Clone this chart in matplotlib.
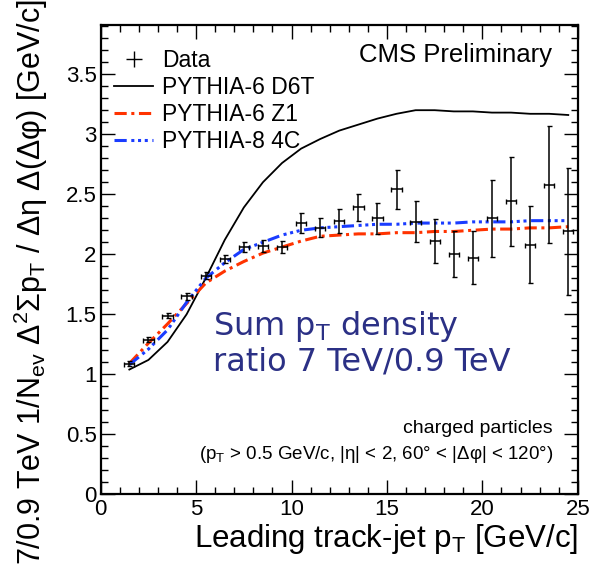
import numpy as np
import matplotlib
matplotlib.use("Agg")
import matplotlib.pyplot as plt
from matplotlib.ticker import MultipleLocator
from matplotlib.lines import Line2D

plt.rcParams['font.family'] = ['Liberation Sans', 'DejaVu Sans']
plt.rcParams['mathtext.default'] = 'regular'

# bin centres of leading track-jet pT [GeV/c]
pt = [1.5, 2.5, 3.5, 4.5, 5.5, 6.5, 7.5, 8.5, 9.5, 10.5, 11.5, 12.5,
      13.5, 14.5, 15.5, 16.5, 17.5, 18.5, 19.5, 20.5, 21.5, 22.5, 23.5, 24.5]

data = [1.09, 1.29, 1.49, 1.65, 1.82, 1.96, 2.06, 2.07, 2.06, 2.26, 2.22, 2.28,
        2.39, 2.30, 2.54, 2.27, 2.11, 2.00, 1.97, 2.30, 2.44, 2.08, 2.58, 2.19]
data_err = [0.02, 0.02, 0.02, 0.03, 0.03, 0.03, 0.04, 0.05, 0.05, 0.08, 0.08, 0.10,
            0.11, 0.13, 0.16, 0.17, 0.18, 0.19, 0.22, 0.32, 0.37, 0.32, 0.49, 0.53]

d6t = [1.04, 1.12, 1.27, 1.50, 1.80, 2.12, 2.39, 2.60, 2.76, 2.88, 2.96, 3.03,
       3.08, 3.13, 3.17, 3.20, 3.20, 3.19, 3.19, 3.18, 3.18, 3.17, 3.17, 3.16]
z1 = [1.09, 1.26, 1.42, 1.59, 1.76, 1.86, 1.94, 2.01, 2.06, 2.11, 2.15, 2.16,
      2.17, 2.17, 2.18, 2.18, 2.19, 2.19, 2.20, 2.21, 2.21, 2.22, 2.22, 2.23]
c4 = [1.08, 1.21, 1.37, 1.60, 1.80, 1.93, 2.04, 2.10, 2.16, 2.20, 2.22, 2.23,
      2.24, 2.25, 2.25, 2.26, 2.26, 2.26, 2.27, 2.27, 2.27, 2.28, 2.28, 2.28]

fig = plt.figure(figsize=(5.89, 5.67), dpi=100)
ax = fig.add_axes([0.171, 0.128, 0.81, 0.828])

l1, = ax.plot(pt, d6t, color='black', lw=1.3)
l2, = ax.plot(pt, z1, color='#ff3300', lw=2.2, dashes=(4, 1.5, 1, 1.5))
l3, = ax.plot(pt, c4, color='#1a3cff', lw=2.2, dashes=(4, 1.5, 1, 1.2, 1, 1.2, 1, 1.5))
ax.errorbar(pt, data, yerr=data_err, xerr=0.27, fmt='none', ecolor='black',
            elinewidth=1.1, capsize=1.8, capthick=1.0)

ax.set_xlim(0, 25)
ax.set_ylim(0, 3.91)
ax.xaxis.set_minor_locator(MultipleLocator(1))
ax.yaxis.set_minor_locator(MultipleLocator(0.1))
ax.set_xticks([0, 5, 10, 15, 20, 25])
ax.set_xticklabels(['0', '5', '10', '15', '20', '25'])
ax.set_yticks([0, 0.5, 1, 1.5, 2, 2.5, 3, 3.5])
ax.set_yticklabels(['0', '0.5', '1', '1.5', '2', '2.5', '3', '3.5'])
ax.tick_params(which='both', direction='in', top=True, right=True, labelsize=16, width=1.0)
ax.tick_params(which='major', length=10, pad=3)
ax.tick_params(which='minor', length=5)
ax.tick_params(axis='x', pad=3)
for s in ax.spines.values():
    s.set_linewidth(1.6)

ax.set_xlabel('Leading track-jet p$_{T}$ [GeV/c]', fontsize=22.5, loc='right', labelpad=2)
fig.text(0.052, 0.003, '7/0.9 TeV 1/N$_{ev}$ Δ$^{2}$Σp$_{T}$ / Δη Δ(Δφ) [GeV/c]',
         rotation=90, fontsize=22, ha='center', va='bottom')

data_h = Line2D([], [], color='black', marker='+', markersize=11, markeredgewidth=1.0,
                linestyle='none')
ax.legend([data_h, l1, l2, l3], ['Data', 'PYTHIA-6 D6T', 'PYTHIA-6 Z1', 'PYTHIA-8 4C'],
          loc='upper left', bbox_to_anchor=(-0.02, 0.997), frameon=False, fontsize=16.5,
          handlelength=1.7, handletextpad=0.4, labelspacing=0.17, borderaxespad=0.6)

ax.text(0.946, 0.936, 'CMS Preliminary', transform=ax.transAxes, fontsize=18.5,
        ha='right', va='center')
ax.text(0.948, 0.141, 'charged particles', transform=ax.transAxes, fontsize=14,
        ha='right', va='center')
ax.text(0.948, 0.084, '(p$_{T}$ > 0.5 GeV/c, |η| < 2, 60° < |Δφ| < 120°)',
        transform=ax.transAxes, fontsize=13.5, ha='right', va='center')
ax.text(0.235, 0.322, 'Sum p$_{T}$ density\nratio 7 TeV/0.9 TeV', transform=ax.transAxes,
        fontsize=23, color='#2b3085', family='DejaVu Sans', ha='left', va='center',
        linespacing=1.1)

fig.savefig('out.png', dpi=100)
